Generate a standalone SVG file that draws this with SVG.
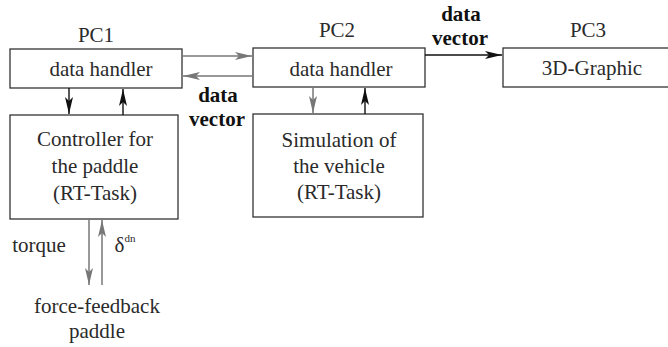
<svg xmlns="http://www.w3.org/2000/svg" width="668" height="347" viewBox="0 0 668 347">
  <style>
    .box { fill: #ffffff; stroke: #333333; stroke-width: 1.3; }
    .t { font-family: "Liberation Serif", "Times New Roman", serif; font-size: 21px; fill: #2a2a2a; text-anchor: middle; }
    .b { font-family: "Liberation Serif", "Times New Roman", serif; font-size: 21px; font-weight: bold; fill: #111111; text-anchor: middle; }
    .blk { stroke: #111111; stroke-width: 1.4; fill: none; marker-end: url(#ahB); }
    .gry { stroke: #777777; stroke-width: 1.5; fill: none; marker-end: url(#ahG); }
  </style>
  <defs>
    <marker id="ahB" markerUnits="userSpaceOnUse" markerWidth="18" markerHeight="10" viewBox="0 0 18 10" refX="17" refY="5" orient="auto">
      <path d="M0,1 L17,5 L0,9 L4,5 Z" fill="#111111"/>
    </marker>
    <marker id="ahG" markerUnits="userSpaceOnUse" markerWidth="18" markerHeight="10" viewBox="0 0 18 10" refX="17" refY="5" orient="auto">
      <path d="M0,1 L17,5 L0,9 L4,5 Z" fill="#777777"/>
    </marker>
  </defs>
  <rect width="668" height="347" fill="#ffffff"/>

  <!-- PC1 -->
  <g id="pc1-handler">
    <text class="t" x="96" y="42">PC1</text>
    <rect class="box" x="10" y="49" width="172" height="39"/>
    <text class="t" x="101" y="76">data handler</text>
  </g>
  <g id="pc1-controller">
    <rect class="box" x="10" y="115" width="168" height="104"/>
    <text class="t" x="95" y="146">Controller for</text>
    <text class="t" x="95" y="173">the paddle</text>
    <text class="t" x="95" y="200">(RT-Task)</text>
  </g>

  <!-- PC2 -->
  <g id="pc2-handler">
    <text class="t" x="337" y="37">PC2</text>
    <rect class="box" x="253" y="48" width="172" height="39"/>
    <text class="t" x="341" y="76">data handler</text>
  </g>
  <g id="pc2-simulation">
    <rect class="box" x="253" y="114" width="170" height="103"/>
    <text class="t" x="339" y="147">Simulation of</text>
    <text class="t" x="339" y="173">the vehicle</text>
    <text class="t" x="339" y="199">(RT-Task)</text>
  </g>

  <!-- PC3 -->
  <g id="pc3-graphic">
    <text class="t" x="588" y="37">PC3</text>
    <rect class="box" x="503" y="48" width="170" height="39"/>
    <text class="t" x="592" y="75">3D-Graphic</text>
  </g>

  <!-- force-feedback paddle -->
  <g id="paddle">
    <text class="t" x="97" y="313">force-feedback</text>
    <text class="t" x="97" y="338">paddle</text>
  </g>

  <!-- connectors -->
  <g id="connectors">
    <line class="gry" x1="182" y1="56" x2="252" y2="56"/>
    <line class="gry" x1="253" y1="76" x2="183" y2="76"/>
    <line class="blk" x1="69" y1="88" x2="69" y2="114"/>
    <line class="blk" x1="123" y1="115" x2="123" y2="89"/>
    <line class="gry" x1="313" y1="87" x2="313" y2="113"/>
    <line class="blk" x1="365" y1="114" x2="365" y2="88"/>
    <line class="blk" x1="425" y1="55" x2="502" y2="55"/>
    <line class="gry" x1="89" y1="219" x2="89" y2="285"/>
    <line class="gry" x1="102" y1="285" x2="102" y2="220"/>
    <text class="b" x="218" y="102">data</text>
    <text class="b" x="217" y="126">vector</text>
    <text class="b" x="461" y="21">data</text>
    <text class="b" x="460" y="45">vector</text>
    <text class="t" x="39" y="252">torque</text>
    <text class="t" x="125" y="252">δ<tspan font-size="11" dy="-10">dn</tspan></text>
  </g>
</svg>
